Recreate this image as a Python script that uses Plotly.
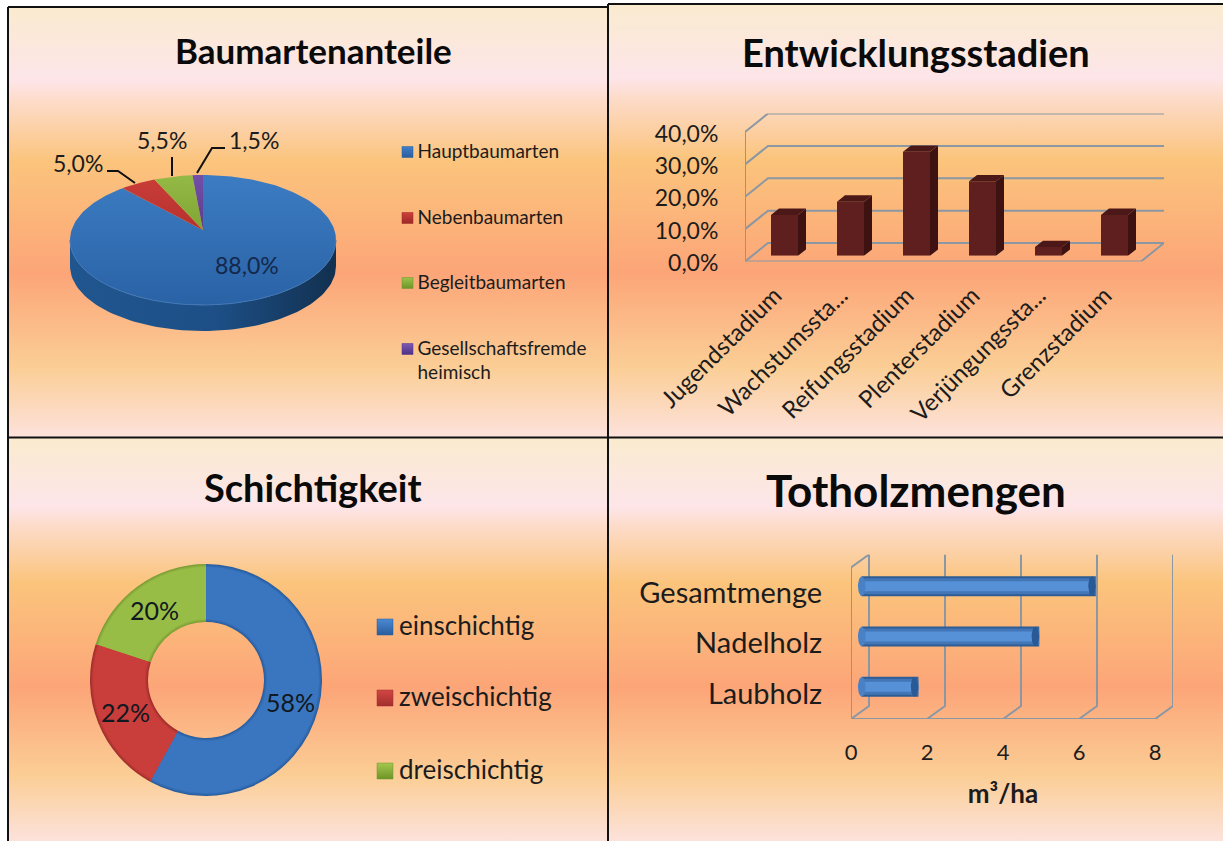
import math
import plotly.graph_objects as go

W, H = 1223, 841

# ---------- data ----------
species_labels = ["Hauptbaumarten", "Nebenbaumarten", "Begleitbaumarten", "Gesellschaftsfremde<br>heimisch"]
species_values = [88.0, 5.0, 5.5, 1.5]
stage_labels = ["Jugendstadium", "Wachstumssta...", "Reifungsstadium", "Plenterstadium", "Verjüngungssta...", "Grenzstadium"]
stage_values = [12.6, 16.7, 32.1, 23.0, 2.7, 12.6]
stage_ticks = [0, 10, 20, 30, 40]
layer_labels = ["einschichtig", "zweischichtig", "dreischichtig"]
layer_values = [58, 22, 20]
wood_labels = ["Laubholz", "Nadelholz", "Gesamtmenge"]
wood_values = [1.6, 4.8, 6.3]
wood_ticks = [0, 2, 4, 6, 8]

FONT = "Lato"
TXT = "#1c1c1c"
GRID = "#8b97a3"
GRAD = [[0, "#FAEBCF"], [0.17, "#FDE5E9"], [0.215, "#FDDCCB"], [0.36, "#FBC47C"], [0.62, "#FCA578"],
        [0.84, "#FBCE96"], [1, "#FDE2DC"]]

fig = go.Figure()

def dom_x(a, b):
    return [a / W, b / W]

def dom_y(top, bottom):
    return [1 - bottom / H, 1 - top / H]

# ---------- panel backgrounds (pixel axes) ----------
panels = [(8, 608, 7, 437), (608, W, 4, 437), (8, 608, 438, H), (608, W, 438, H)]
for (l, r, t, b) in panels:
    fig.add_trace(go.Scatter(x=[l, r, r, l, l], y=[t, t, b, b, t], mode="lines", line=dict(width=0),
                             fill="toself", fillgradient=dict(type="vertical", colorscale=[[1 - s, c] for s, c in reversed(GRAD)]),
                             hoverinfo="skip", showlegend=False, xaxis="x", yaxis="y"))

# ---------- 3-D pie ----------
cx, cy, rx, ry, depth = 203, 240, 133, 65, 26
ax_, ay_ = 203, 230

def rim(phi):
    dx, dy = rx * math.sin(phi), -ry * math.cos(phi)
    A = (dx / rx) ** 2 + (dy / ry) ** 2
    B = 2 * (dy / ry) * ((ay_ - cy) / ry)
    C = ((ay_ - cy) / ry) ** 2 - 1
    t = (-B + math.sqrt(B * B - 4 * A * C)) / (2 * A)
    return ax_ + t * dx, ay_ + t * dy

lo = [math.pi * i / 80 for i in range(81)]
sx = [cx + rx * math.cos(a) for a in lo] + [cx + rx * math.cos(a) for a in reversed(lo)]
sy = [cy + ry * math.sin(a) + depth for a in lo] + [cy + ry * math.sin(a) for a in reversed(lo)]
fig.add_trace(go.Scatter(x=sx, y=sy, mode="lines", line=dict(width=0), fill="toself",
                         fillgradient=dict(type="horizontal", colorscale=[[0, "#20568F"], [0.55, "#1D4F86"], [1, "#12304F"]]),
                         hoverinfo="skip", showlegend=False))
pie_scales = [
    [[0, "#2A62A6"], [1, "#3C7CC2"]],
    [[0, "#B5312D"], [1, "#C93C38"]],
    [[0, "#7FA535"], [1, "#94B945"]],
    [[0, "#5B3C8C"], [1, "#7350A8"]],
]
cum = 0.0
total = sum(species_values)
for v, sc in zip(species_values, pie_scales):
    a0, a1 = cum / total * 2 * math.pi, (cum + v) / total * 2 * math.pi
    n = max(3, int(v * 2))
    pts = [rim(a0 + (a1 - a0) * i / n) for i in range(n + 1)]
    fig.add_trace(go.Scatter(x=[ax_] + [p[0] for p in pts] + [ax_], y=[ay_] + [p[1] for p in pts] + [ay_],
                             mode="lines", line=dict(width=0), fill="toself",
                             fillgradient=dict(type="vertical", colorscale=sc),
                             hoverinfo="skip", showlegend=False))
    cum += v
fig.add_trace(go.Scatter(x=[cx + rx * math.cos(a) for a in lo], y=[cy + ry * math.sin(a) for a in lo],
                         mode="lines", line=dict(width=1, color="#3F78B8"), hoverinfo="skip", showlegend=False))

# leader lines
for lx, ly in [([107, 118, 135], [171, 171, 183]), ([172, 172], [157, 176]), ([225, 212, 197], [148, 148, 173])]:
    fig.add_trace(go.Scatter(x=lx, y=ly, mode="lines", line=dict(width=2, color="#111111"), hoverinfo="skip", showlegend=False))

# square legend markers + labels
def legend(xm, gap, ys, labels, colors, size, fs, pitch):
    for y, lab, c in zip(ys, labels, colors):
        fig.add_trace(go.Scatter(x=[xm], y=[y], mode="markers",
                                 marker=dict(symbol="square", size=size, color=c[0], line=dict(width=0.5, color=c[1]),
                                             gradient=dict(type="vertical", color=c[1])),
                                 hoverinfo="skip", showlegend=False))
        for k, part in enumerate(lab.split("<br>")):
            fig.add_trace(go.Scatter(x=[xm + gap], y=[y + 1 + k * pitch], mode="text", text=[part], textposition="middle right",
                                     textfont=dict(family=FONT, size=fs, color=TXT),
                                     hoverinfo="skip", showlegend=False))

legend(407.5, 10, [152, 218, 283, 349], species_labels,
       [("#3F7FC8", "#2A5D9C"), ("#CF3E3A", "#9C2A28"), ("#9CC24A", "#6E9428"), ("#7E58B2", "#4F3288")], 11, 19, 24)
legend(385, 14, [627, 698, 771], layer_labels,
       [("#4A8AD4", "#2A5D9C"), ("#D24643", "#A22E2C"), ("#A4C84E", "#6E9428")], 16, 26, 0)

# ---------- Entwicklungsstadien: frame on hidden axes x2/y2 ----------
n_st = len(stage_values)
px_x = 396 / n_st
px_y = 129.5 / 40
gdx, gdy = 23 / px_x, 18.5 / px_y
fx, fy = [], []
for v in stage_ticks:
    fx += [0, gdx, n_st + gdx, None]
    fy += [v, v + gdy, v + gdy, None]
fx += [0, 0, None, 0, n_st, n_st + gdx]
fy += [stage_ticks[-1], 0, None, 0, 0, gdy]
fig.add_trace(go.Scatter(x=fx, y=fy, mode="lines", line=dict(width=2, color=GRID),
                         hoverinfo="skip", showlegend=False, xaxis="x2", yaxis="y2"))

# bars on hidden axes x3/y3
bw = 27 / px_x
fig.add_trace(go.Bar(x=list(range(n_st)), y=stage_values, width=bw, marker=dict(color="#5E1F1E", line=dict(width=0)),
                     hoverinfo="skip", showlegend=False, xaxis="x3", yaxis="y3"))
bdx, bdy = 8 / px_x, 6.3 / px_y
sxs, sys, txs, tys = [], [], [], []
for i, v in enumerate(stage_values):
    r_, l_ = i + bw / 2, i - bw / 2
    sxs += [r_, r_, r_ + bdx, r_ + bdx, r_, None]
    sys += [0, v, v + bdy, bdy, 0, None]
    txs += [l_, r_, r_ + bdx, l_ + bdx, l_, None]
    tys += [v, v, v + bdy, v + bdy, v, None]
fig.add_trace(go.Scatter(x=sxs, y=sys, mode="lines", line=dict(width=0), fill="toself", fillcolor="#3D1211",
                         hoverinfo="skip", showlegend=False, xaxis="x3", yaxis="y3"))
fig.add_trace(go.Scatter(x=txs, y=tys, mode="lines", line=dict(width=0), fill="toself", fillcolor="#4C1817",
                         hoverinfo="skip", showlegend=False, xaxis="x3", yaxis="y3"))
# transparent trace so the tick axes x4/y4 are drawn
fig.add_trace(go.Scatter(x=[0], y=[0], mode="markers", marker=dict(opacity=0, size=1),
                         hoverinfo="skip", showlegend=False, xaxis="x4", yaxis="y4"))

# ---------- Totholzmengen: frame on hidden axes x5/y5 ----------
n_w = len(wood_values)
wdx, wdy = 18 / 38, 13 / 50.5
wx, wy = [], []
for v in wood_ticks:
    wx += [v, v + wdx, v + wdx, None]
    wy += [-0.5, -0.5 + wdy, n_w - 0.5 + wdy, None]
wx += [0, 0, wdx, None, 0, wood_ticks[-1]]
wy += [-0.5, n_w - 0.5, n_w - 0.5 + wdy, None, -0.5, -0.5]
fig.add_trace(go.Scatter(x=wx, y=wy, mode="lines", line=dict(width=2, color=GRID),
                         hoverinfo="skip", showlegend=False, xaxis="x5", yaxis="y5"))
ypos = list(range(n_w))
cyl_base = 0.1
for wd, col in [(20 / 50.5, "#2E5C94"), (16 / 50.5, "#4376B6"), (10 / 50.5, "#5690D6")]:
    fig.add_trace(go.Bar(y=ypos, x=[v - cyl_base for v in wood_values], base=cyl_base, orientation="h", width=wd,
                         marker=dict(color=col, line=dict(width=0)),
                         hoverinfo="skip", showlegend=False, xaxis="x6", yaxis="y6"))

def caps(centers, col):
    ex, ey = [], []
    for i, c0 in enumerate(centers):
        for k in range(25):
            a = 2 * math.pi * k / 24
            ex.append(c0 + cyl_base * math.cos(a))
            ey.append(i + 0.195 * math.sin(a))
        ex.append(None)
        ey.append(None)
    fig.add_trace(go.Scatter(x=ex, y=ey, mode="lines", line=dict(width=0), fill="toself", fillcolor=col,
                             hoverinfo="skip", showlegend=False, xaxis="x6", yaxis="y6"))
caps([cyl_base] * n_w, "#4A80C4")
caps([v - cyl_base for v in wood_values], "#2A5A96")
fig.add_trace(go.Scatter(x=[0], y=[0], mode="markers", marker=dict(opacity=0, size=1),
                         hoverinfo="skip", showlegend=False, xaxis="x7", yaxis="y7"))

# ---------- frame ----------
frame_x = [8, 8, None, 8, 608, None, 608, W, None, 608, 608, None, 8, W]
frame_y = [7, H, None, 7, 7, None, 4, 4, None, 4, H, None, 437.5, 437.5]
fig.add_trace(go.Scatter(x=frame_x, y=frame_y, mode="lines", line=dict(width=2, color="#111111"),
                         hoverinfo="skip", showlegend=False))

# ---------- donut (stacked rings for the bevel) ----------
dcx, dcy, dr = 206, 680, 116
def ring(r, hole, colors):
    fig.add_trace(go.Pie(values=layer_values, labels=layer_labels, sort=False, direction="clockwise", rotation=0,
                         hole=hole, domain=dict(x=dom_x(dcx - r, dcx + r), y=dom_y(dcy - r, dcy + r)),
                         marker=dict(colors=colors, line=dict(width=0)), textinfo="none",
                         hoverinfo="skip", showlegend=False))
ring(116, 58 / 116, ["#2A5E9E", "#A12F2D", "#7C9E35"])
ring(115, 59 / 115, ["#2F67AB", "#B03532", "#86A93B"])
ring(114, 60 / 114, ["#346EB5", "#BD3936", "#8FB340"])
ring(113, 61 / 113, ["#3A76C0", "#C93D3A", "#98BD46"])

# ---------- text ----------
ann = []
def text(x, y, s, size, bold=False, color=TXT):
    ann.append(dict(x=x, y=y, xref="x", yref="y", text=f"<b>{s}</b>" if bold else s, showarrow=False,
                    font=dict(family=FONT, size=size, color=color), xanchor="center", yanchor="middle"))
text(313, 50, "Baumartenanteile", 35, True, "#0a0a0a")
text(916, 52, "Entwicklungsstadien", 38, True, "#0a0a0a")
text(313, 487, "Schichtigkeit", 38, True, "#0a0a0a")
text(916, 490, "Totholzmengen", 44, True, "#0a0a0a")
fmt = lambda v: f"{v:.1f}%".replace(".", ",")
text(247, 265, fmt(species_values[0]), 23, False, "#14284A")
text(78, 163, fmt(species_values[1]), 23)
text(162, 140, fmt(species_values[2]), 23)
text(254, 140, fmt(species_values[3]), 23)
cum = 0
for v in layer_values:
    mid = (cum + v / 2) / sum(layer_values) * 2 * math.pi
    text(dcx + 87 * math.sin(mid), dcy - 87 * math.cos(mid), f"{v}%", 25, False, "#101820")
    cum += v

hidden = dict(visible=False, fixedrange=True)
fig.update_layout(
    width=W, height=H, autosize=False, margin=dict(l=0, r=0, t=0, b=0, pad=0), template="none",
    paper_bgcolor="white", plot_bgcolor="rgba(0,0,0,0)", showlegend=False, barmode="overlay",
    annotations=ann, font=dict(family=FONT, color=TXT),
    xaxis=dict(domain=[0, 1], range=[0, W], **hidden),
    yaxis=dict(domain=[0, 1], range=[H, 0], **hidden),
    xaxis2=dict(domain=dom_x(745, 1164), range=[0, n_st + gdx], anchor="y2", **hidden),
    yaxis2=dict(domain=dom_y(113.5, 261.5), range=[0, 40 + gdy], anchor="x2", **hidden),
    xaxis3=dict(domain=dom_x(751.5, 1147.5), range=[-0.5, n_st - 0.5], anchor="y3", **hidden),
    yaxis3=dict(domain=dom_y(126.2, 255.7), range=[0, 40], anchor="x3", **hidden),
    xaxis4=dict(domain=dom_x(745, 1141), range=[0, n_st], anchor="y4", tickmode="array",
                tickvals=[i + 0.45 for i in range(n_st)], ticktext=stage_labels, tickangle=-45, ticks="outside",
                ticklen=8, tickcolor="rgba(0,0,0,0)", showgrid=False, zeroline=False, showline=False,
                tickfont=dict(family=FONT, size=24, color=TXT)),
    yaxis4=dict(domain=dom_y(133.5, 263), range=[0, 40], anchor="x4", tickmode="array", tickvals=stage_ticks,
                ticktext=[fmt(v) for v in stage_ticks], ticks="outside", ticklen=21, tickcolor="rgba(0,0,0,0)",
                showgrid=False, zeroline=False, showline=False, tickfont=dict(family=FONT, size=23, color=TXT)),
    xaxis5=dict(domain=dom_x(851, 1173), range=[0, 8 + wdx], anchor="y5", **hidden),
    yaxis5=dict(domain=dom_y(554.5, 719), range=[-0.5, n_w - 0.5 + wdy], anchor="x5", **hidden),
    xaxis6=dict(domain=dom_x(854.2, 1160), range=[-0.1, 8], anchor="y6", **hidden),
    yaxis6=dict(domain=dom_y(561, 712), range=[-0.5, n_w - 0.5], anchor="x6", **hidden),
    xaxis7=dict(domain=dom_x(851, 1155), range=[0, 8], anchor="y7", tickmode="array", tickvals=wood_ticks,
                ticktext=[str(v) for v in wood_ticks], ticks="outside", ticklen=14, tickcolor="rgba(0,0,0,0)",
                showgrid=False, zeroline=False, showline=False, tickfont=dict(family=FONT, size=22, color=TXT),
                title=dict(text="<b>m³/ha</b>", font=dict(family=FONT, size=26, color=TXT), standoff=20)),
    yaxis7=dict(domain=dom_y(567.5, 719), range=[-0.5, n_w - 0.5], anchor="x7", tickmode="array", tickvals=ypos,
                ticktext=wood_labels, ticks="outside", ticklen=22, tickcolor="rgba(0,0,0,0)",
                showgrid=False, zeroline=False, showline=False, tickfont=dict(family=FONT, size=29, color=TXT)),
)

fig.write_html("out.html", config={"displayModeBar": False},
               post_script="document.body.style.margin='0';document.body.style.overflow='hidden';")
